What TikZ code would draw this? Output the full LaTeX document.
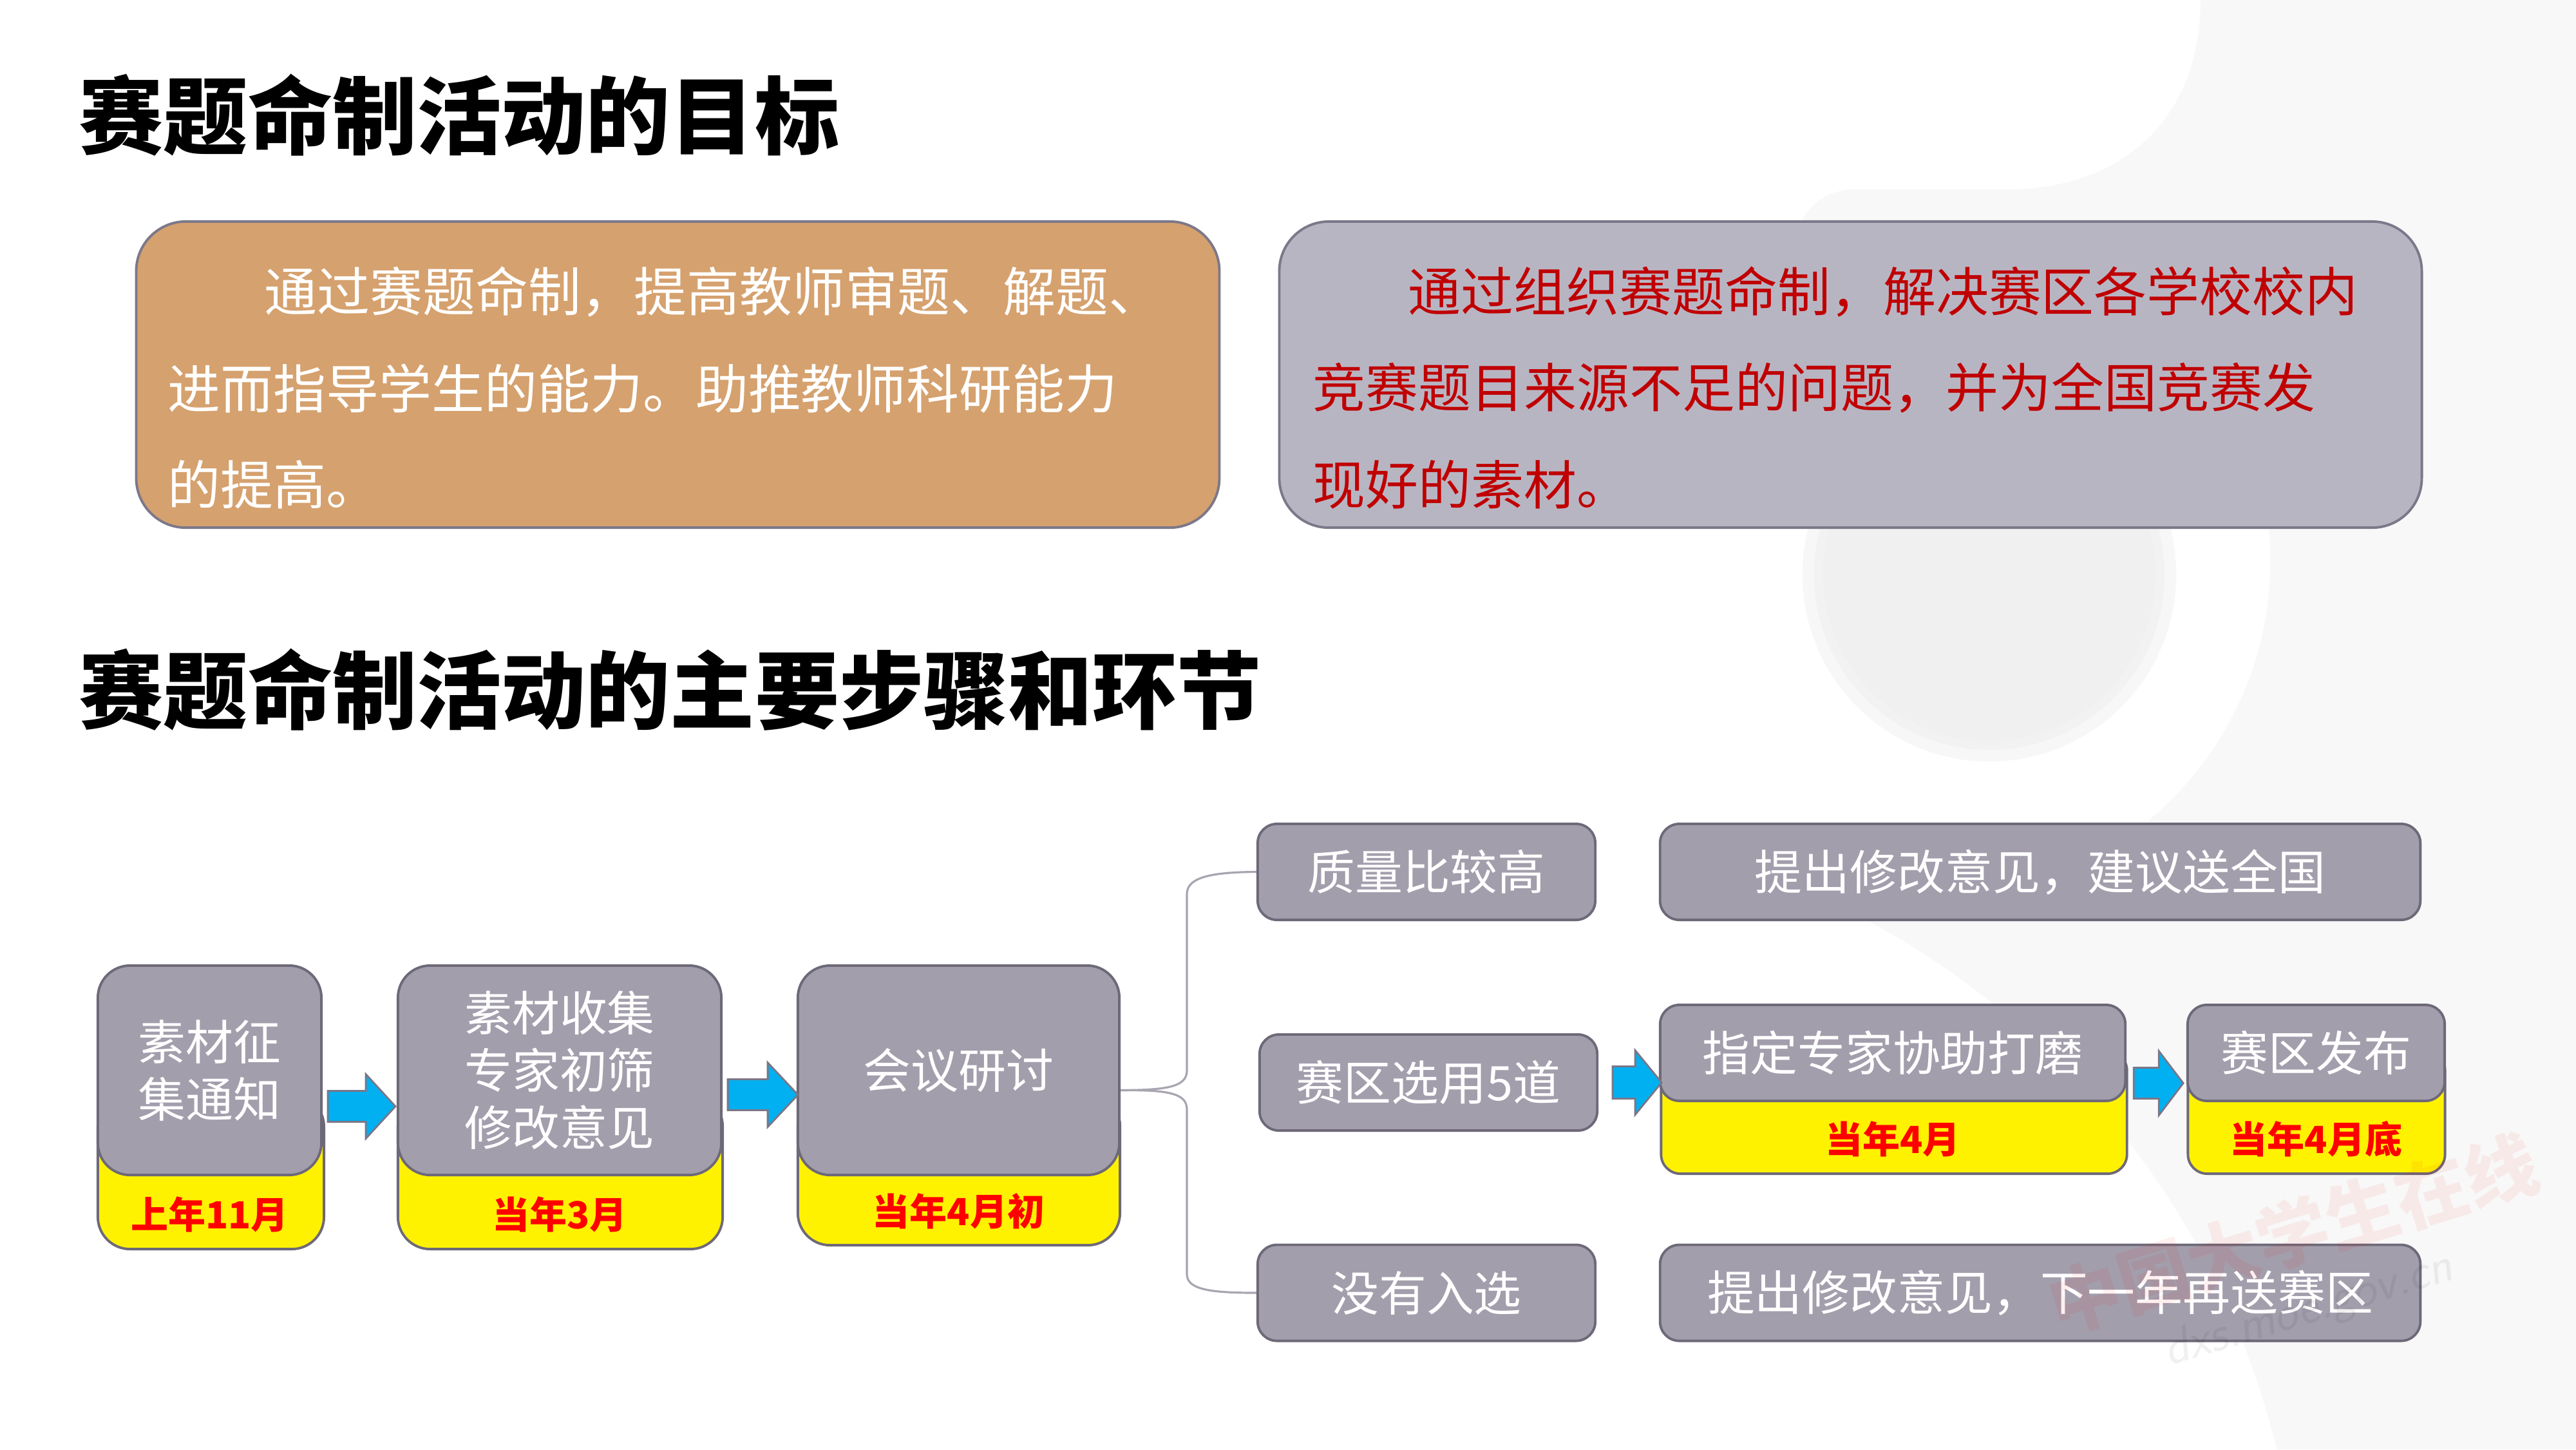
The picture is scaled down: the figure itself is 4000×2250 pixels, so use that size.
\documentclass[tikz,border=0pt]{standalone}
\usepackage{fontspec}
\newfontfamily\cjk{Noto Sans CJK SC}
\usetikzlibrary{calc}
\definecolor{tanfill}{HTML}{D5A16E}
\definecolor{lavfill}{HTML}{B8B5C3}
\definecolor{boxline}{HTML}{7C7889}
\definecolor{stepgray}{HTML}{A39EAC}
\definecolor{stepline}{HTML}{6E6978}
\definecolor{darkred}{HTML}{C00000}
\definecolor{arrowblue}{HTML}{00B0F0}
\definecolor{arrowline}{HTML}{7A7688}
\definecolor{bracecol}{HTML}{A8A4B0}
\definecolor{bgpale}{HTML}{F8F8F8}
\begin{document}
\begin{tikzpicture}[x=0.01cm,y=-0.01cm,
  goalbox/.style={draw=boxline, line width=1.1pt, rounded corners=0.77cm, inner sep=0pt},
  goaltext/.style={anchor=west, inner sep=0pt, font=\cjk\fontsize{23.3}{28}\selectfont},
  titlesty/.style={anchor=west, inner sep=0pt, text=black, font=\cjk\bfseries\fontsize{37.3}{40}\selectfont},
  stepbox/.style={draw=stepline, fill=stepgray, line width=1.1pt, text=white, align=center, inner sep=0pt,
    font=\cjk\fontsize{21}{25.3}\selectfont},
  bigstep/.style={stepbox, rounded corners=0.5cm, minimum height=3.25cm},
  smallstep/.style={stepbox, rounded corners=0.3cm, minimum height=1.49cm},
  ybox/.style={draw=stepline, fill=yellow, line width=1.1pt, inner sep=0pt, anchor=south},
  lbl/.style={text=red, inner sep=0pt, font=\cjk\bfseries\fontsize{16.5}{18}\selectfont},
  barrowsty/.style={draw=arrowline, fill=arrowblue, line width=0.8pt, line join=miter},
  bracesty/.style={draw=bracecol, line width=0.9pt},
  pics/barrow/.style args={#1/#2/#3}{code={\draw[barrowsty] (0,-#3) -- (#1,-#3) -- (#1,-50) -- (#2,0) -- (#1,50) -- (#1,#3) -- (0,#3) -- cycle;}}
]
% background
\path[use as bounding box] (0,0) rectangle (4000,2250);
\fill[white] (0,0) rectangle (4000,2250);
\fill[bgpale] (3417,0) .. controls (3417,180) and (3300,294) .. (3117,294) -- (2880,294)
  .. controls (2830,294) and (2790,330) .. (2790,380) -- (2790,1300) -- (2584,1450) -- (2584,2250)
  -- (4000,2250) -- (4000,0) -- cycle;
\fill[white] (3000,870) circle (5.25cm);
\fill[white] (2300,2550) circle (12.7cm);
\fill[black!3] (3089,892) circle (2.90cm);
\fill[black!5] (3089,892) circle (2.72cm);
\fill[black!6] (3089,892) circle (2.58cm);

% title 1
\node[titlesty] (title1) at (122,179) {赛题命制活动的目标};
% goal boxes
\node[goalbox, fill=tanfill, minimum width=16.81cm, minimum height=4.75cm] (goalA) at (1052.5,581.5) {};
\node[goalbox, fill=lavfill, minimum width=17.73cm, minimum height=4.75cm] (goalB) at (2873.5,581.5) {};
\node[goaltext, text=white] (ga1) at (410,453) {通过赛题命制，提高教师审题、解题、};
\node[goaltext, text=white] (ga2) at (260,603) {进而指导学生的能力。助推教师科研能力};
\node[goaltext, text=white] (ga3) at (260,752) {的提高。};
\node[goaltext, text=darkred] (gb1) at (2186,453) {通过组织赛题命制，解决赛区各学校校内};
\node[goaltext, text=darkred] (gb2) at (2038,602) {竞赛题目来源不足的问题，并为全国竞赛发};
\node[goaltext, text=darkred] (gb3) at (2038,752) {现好的素材。};

% title 2
\node[titlesty] (title2) at (122,1071) {赛题命制活动的主要步骤和环节};

% yellow boxes (behind)
\node[ybox, rounded corners=0.5cm, minimum width=3.51cm, minimum height=2.4cm] (Ay) at (327.5,1941) {};
\node[ybox, rounded corners=0.5cm, minimum width=5.04cm, minimum height=2.4cm] (By) at (870,1941) {};
\node[ybox, rounded corners=0.5cm, minimum width=5.0cm, minimum height=2.35cm] (Cy) at (1489,1935) {};
\node[ybox, rounded corners=0.3cm, minimum width=7.23cm, minimum height=1.9cm] (Py) at (2941,1824) {};
\node[ybox, rounded corners=0.3cm, minimum width=3.99cm, minimum height=1.9cm] (Fy) at (3597,1824) {};

% step boxes
\node[bigstep, minimum width=3.47cm] (A) at (325.5,1661.5) {素材征\\集通知};
\node[bigstep, minimum width=5.02cm] (B) at (869,1661.5) {素材收集\\专家初筛\\修改意见};
\node[bigstep, minimum width=4.99cm] (C) at (1488.5,1661.5) {会议研讨};
\node[smallstep, minimum width=5.24cm] (Q) at (2215,1353.5) {质量比较高};
\node[smallstep, minimum width=11.8cm] (R1) at (3168,1353.5) {提出修改意见，建议送全国};
\node[smallstep, minimum width=5.24cm] (S) at (2218,1680.5) {赛区选用5道};
\node[smallstep, minimum width=7.22cm] (P) at (2939,1634.5) {指定专家协助打磨};
\node[smallstep, minimum width=3.99cm] (F) at (3596.5,1634.5) {赛区发布};
\node[smallstep, minimum width=5.24cm] (N) at (2215,2007) {没有入选};
\node[smallstep, minimum width=11.8cm] (R3) at (3168,2007) {提出修改意见，下一年再送赛区};

% labels
\node[lbl] (la) at (A.center |- 0,1885) {上年11月};
\node[lbl] (lb) at (B.center |- 0,1885) {当年3月};
\node[lbl] (lc) at (C.center |- 0,1880) {当年4月初};
\node[lbl] (lp) at (P.center |- 0,1768) {当年4月};
\node[lbl] (lf) at (F.center |- 0,1768) {当年4月底};

% arrows
\pic at ($(A.east)+(8,56)$) {barrow={59/105/24}};
\pic at ($(B.east)+(8,38)$) {barrow={62/109/24}};
\pic at ($(S.east)+(22,0)$) {barrow={35/76/25}};
\pic at ($(P.east)+(11,47)$) {barrow={39/77/24}};

% brace
\coordinate (btip) at ($(C.east)+(0,31)$);
\draw[bracesty] (btip) .. controls (1810,1692) and (1843,1688) .. (1843,1662) -- (1843,1388)
  .. controls (1843,1362) and (1880,1354) .. (Q.west);
\draw[bracesty] (btip) .. controls (1810,1692) and (1843,1696) .. (1843,1722) -- (1843,1978)
  .. controls (1843,2002) and (1880,2007) .. (N.west);

% faint watermark on top
\node[rotate=17, text=red, opacity=0.06, inner sep=0pt, font=\cjk\bfseries\fontsize{32}{32}\selectfont] (wm1) at (3560,1915) {中国大学生在线};
\node[rotate=17, text=black, opacity=0.06, inner sep=0pt, font=\sffamily\itshape\fontsize{22}{22}\selectfont] (wm2) at (3585,2035) {dxs.moe.gov.cn};
\end{tikzpicture}
\end{document}
